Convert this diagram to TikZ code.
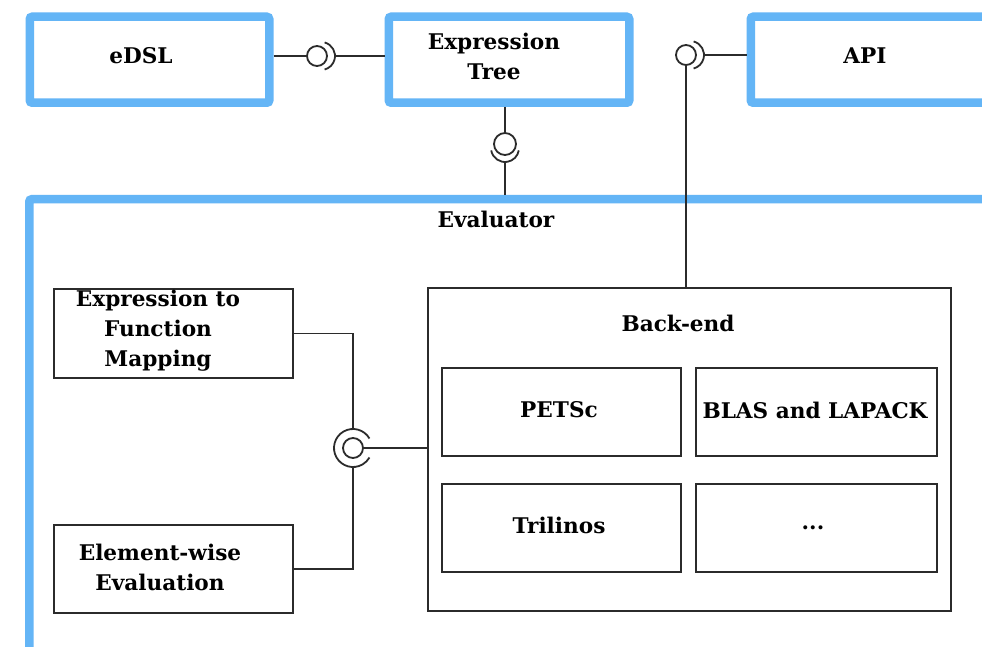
\documentclass[tikz,border=0pt]{standalone}
\usepackage{fontspec}
\setmainfont{DejaVu Serif}
\usetikzlibrary{calc}
\begin{document}
\begin{tikzpicture}[x=1pt,y=-1pt,
  blubox/.style={draw=bluefr, line width=8.5pt, rounded corners=2.5pt, fill=none, inner sep=0pt, anchor=north west},
  blkbox/.style={draw=lineblk, line width=1.6pt, fill=none, inner sep=0pt, anchor=north west},
  lbl/.style={font=\fontsize{21.6}{30}\selectfont\bfseries, text=black, align=center, inner sep=0pt},
  wire/.style={draw=lineblk, line width=1.6pt},
  ballst/.style={draw=lineblk, line width=1.8pt, fill=white},
  sockst/.style={draw=lineblk, line width=1.8pt}]
\definecolor{bluefr}{HTML}{64B5F6}
\definecolor{lineblk}{HTML}{2B2B2B}
\useasboundingbox (0,0) rectangle (982,647);
\clip (0,0) rectangle (982,647);
\fill[white] (0,0) rectangle (982,647);

% top row components
\node[blubox, minimum width=239.5pt, minimum height=86pt] (edsl) at (25.5,12.5) {};
\node[blubox, minimum width=240.5pt, minimum height=86pt] (tree) at (384.5,12.5) {};
\node[blubox, minimum width=239pt, minimum height=86pt] (api) at (746.5,12.5) {};
\node[lbl] (edsl-t) at (141,56) {eDSL};
\node[lbl] (tree-t) at (494,56) {Expression\\Tree};
\node[lbl] (api-t) at (865,56) {API};

% evaluator container
\node[blubox, minimum width=960.5pt, minimum height=454.5pt] (eval) at (25,195) {};
\node[lbl] (eval-t) at (496,219) {Evaluator};

% back-end and its libraries
\node[blkbox, minimum width=523pt, minimum height=323pt] (back) at (427,287) {};
\node[lbl] (back-t) at (678,323) {Back-end};
\node[blkbox, minimum width=239pt, minimum height=88pt] (petsc) at (441,367) {};
\node[blkbox, minimum width=241pt, minimum height=88pt] (blas) at (695,367) {};
\node[blkbox, minimum width=239pt, minimum height=88pt] (tril) at (441,483) {};
\node[blkbox, minimum width=241pt, minimum height=88pt] (more) at (695,483) {};
\node[lbl] (petsc-t) at (559,410) {PETSc};
\node[lbl] (blas-t) at (815,410) {BLAS and LAPACK};
\node[lbl] (tril-t) at (559,525) {Trilinos};
\node[lbl] (more-t) at (813,528) {...};

% evaluation parts
\node[blkbox, minimum width=239pt, minimum height=89pt] (map) at (53,288) {};
\node[blkbox, minimum width=239pt, minimum height=88pt] (elem) at (53,524) {};
\node[lbl] (map-t) at (158,331) {Expression to\\Function\\Mapping};
\node[lbl] (elem-t) at (160,567) {Element-wise\\Evaluation};

% eDSL -- Expression Tree interface
\coordinate (b1) at (317,56);
\coordinate (s1) at (321,56);
\draw[wire] (edsl.east |- b1) -- ($(b1)+(-10,0)$);
\draw[wire] ($(s1)+(14,0)$) -- (tree.west |- s1);
\draw[ballst] (b1) circle[radius=10pt];
\draw[sockst] ($(s1)+(75:14pt)$) arc[start angle=75, end angle=-75, radius=14pt];

% Expression Tree -- Evaluator interface
\coordinate (b2) at (505,144);
\coordinate (s2) at (505,148);
\draw[wire] (tree.south -| b2) -- ($(b2)+(0,-11)$);
\draw[wire] ($(s2)+(0,14)$) -- (eval.north -| s2);
\draw[ballst] (b2) circle[radius=11pt];
\draw[sockst] ($(s2)+(190:14pt)$) arc[start angle=190, end angle=350, radius=14pt];

% API -- Back-end interface
\coordinate (b3) at (686,55);
\coordinate (s3) at (690,55);
\draw[wire] ($(s3)+(14,0)$) -- (api.west |- s3);
\draw[wire] ($(b3)+(0,10)$) -- (back.north -| b3);
\draw[ballst] (b3) circle[radius=10pt];
\draw[sockst] ($(s3)+(75:14pt)$) arc[start angle=75, end angle=-75, radius=14pt];

% internal evaluator interface
\coordinate (b4) at (353,448);
\draw[wire] (map.east) -| ($(b4)+(0,-19)$);
\draw[wire] (elem.east) -| ($(b4)+(0,19)$);
\draw[wire] ($(b4)+(10,0)$) -- (back.west |- b4);
\draw[ballst] (b4) circle[radius=10pt];
\draw[sockst] ($(b4)+(30:19pt)$) arc[start angle=30, end angle=330, radius=19pt];
\end{tikzpicture}
\end{document}
